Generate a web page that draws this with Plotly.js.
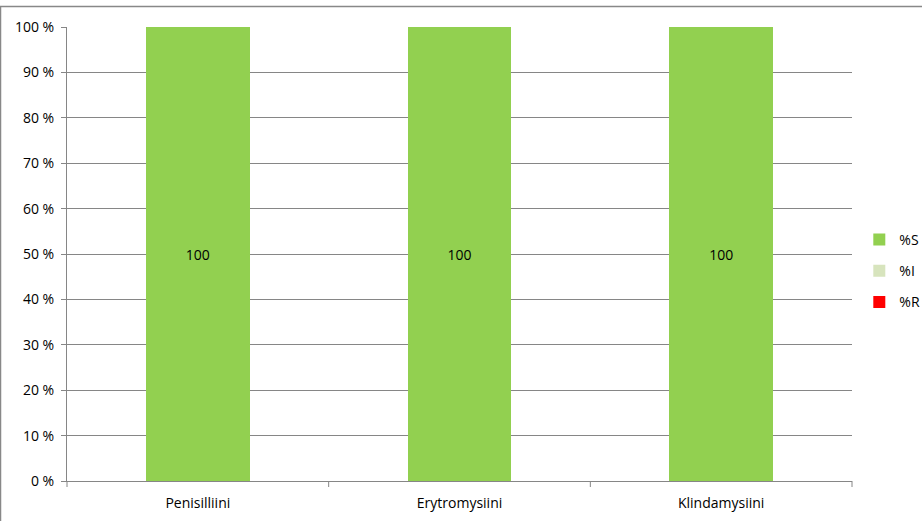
<!DOCTYPE html>
<html>
<head>
<meta charset="utf-8">
<script src="https://cdn.plot.ly/plotly-3.0.1.min.js"></script>
<style>html,body{margin:0;padding:0;background:#fff;}#chart{width:922px;height:521px;}</style>
</head>
<body>
<div id="chart"></div>
<script>
const categories = ["Penisilliini", "Erytromysiini", "Klindamysiini"];
const seriesNames = ["%S", "%I", "%R"];
const valuesS = [100, 100, 100];
const valuesI = [0, 0, 0];
const valuesR = [0, 0, 0];
const yTickVals = [0, 10, 20, 30, 40, 50, 60, 70, 80, 90, 100];
const yTickText = ["0 %", "10 %", "20 %", "30 %", "40 %", "50 %", "60 %", "70 %", "80 %", "90 %", "100 %"];

const colors = ["#92D050", "#D7E4BD", "#FF0000"];
const font = "Open Sans, Liberation Sans, sans-serif";
const allValues = [valuesS, valuesI, valuesR];

const traces = allValues.map((vals, i) => ({
  type: "bar",
  name: seriesNames[i],
  x: categories,
  y: vals,
  legendgroup: "g" + i,
  marker: {color: colors[i], line: {width: 0}},
  text: vals.map(v => v > 0 ? String(v) : ""),
  textposition: i === 0 ? "inside" : "none",
  insidetextanchor: "middle",
  textfont: {family: font, size: 14, color: "#000"},
  hoverinfo: "x+y+name"
}));

const layout = {
  width: 922,
  height: 521,
  margin: {l: 67, r: 70, t: 27, b: 40, pad: 0},
  paper_bgcolor: "#fff",
  plot_bgcolor: "#fff",
  barmode: "stack",
  bargap: 0.605,
  showlegend: true,
  legend: {
    xref: "container", yref: "container",
    x: 0.932, xanchor: "left",
    y: 0.4798, yanchor: "middle",
    traceorder: "grouped",
    tracegroupgap: 10,
    borderwidth: 0,
    font: {family: font, size: 14, color: "#000"},
    itemwidth: 30,
    bgcolor: "rgba(0,0,0,0)"
  },
  xaxis: {
    type: "category",
    tickfont: {family: font, size: 14, color: "#000"},
    ticklabelstandoff: 9,
    showgrid: false,
    showline: true,
    linecolor: "#868686",
    linewidth: 1,
    ticks: "",
    zeroline: false,
    fixedrange: true
  },
  yaxis: {
    range: [0, 100],
    tickvals: yTickVals,
    ticktext: yTickText,
    tickfont: {family: font, size: 14, color: "#000"},
    ticklabelstandoff: 4,
    showgrid: true,
    gridcolor: "#868686",
    gridwidth: 1,
    showline: true,
    linecolor: "#868686",
    linewidth: 1,
    ticks: "outside",
    ticklen: 5,
    tickcolor: "#868686",
    zeroline: false,
    fixedrange: true
  },
  shapes: [
    ...[0, 1, 2, 3].map(k => ({
      type: "line", xref: "paper", yref: "paper",
      x0: k / 3, x1: k / 3, y0: 0, y1: -6 / 454,
      line: {color: "#868686", width: 1}
    })),
    {
      type: "rect", xref: "paper", yref: "paper",
      x0: (0.5 - 67) / 785, x1: (926 - 67) / 785,
      y0: (481 - 530) / 454, y1: (481 - 6.5) / 454,
      line: {color: "#888888", width: 1.5},
      fillcolor: "rgba(0,0,0,0)"
    }
  ]
};

Plotly.newPlot("chart", traces, layout, {displayModeBar: false, staticPlot: true});
</script>
</body>
</html>
